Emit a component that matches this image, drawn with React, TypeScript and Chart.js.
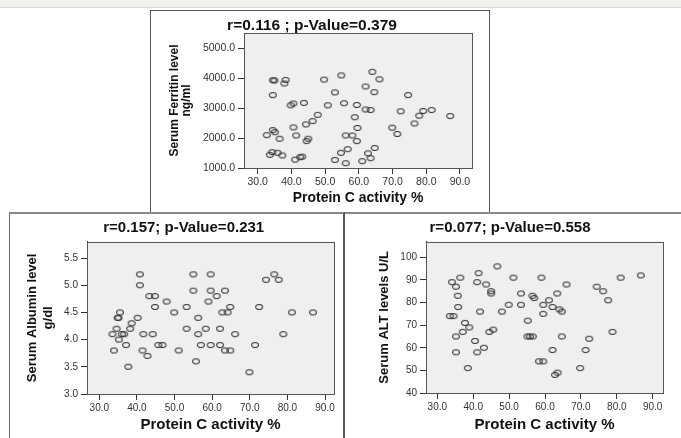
import React, { useEffect, useRef } from "react";
import { Chart, registerables } from "chart.js";

Chart.register(...registerables);

// ---------- data ----------
const xTitle = "Protein C activity %";
const xTickValues = [30, 40, 50, 60, 70, 80, 90];

const ferritinTitle = "r=0.116 ; p-Value=0.379";
const ferritinYTitle = ["Serum Ferritin level", "ng/ml"];
const ferritinYTicks = [1000, 2000, 3000, 4000, 5000];
const ferritinX = [
  34.5, 35.0, 38.3, 37.9, 34.5, 39.8, 40.6, 43.7, 40.6, 44.3,
  46.3, 47.8, 50.8, 49.7, 52.9, 54.8, 34.5, 35.1, 32.7, 36.5,
  41.4, 45.0, 44.5, 34.3, 33.6, 35.9, 37.3, 41.1, 42.6, 43.2,
  52.9, 64.0, 66.1, 62.0, 64.6, 55.6, 59.4, 62.0, 63.5, 58.8,
  74.6, 72.4, 79.1, 81.6, 77.9, 76.5, 87.1, 59.6, 69.9, 71.4,
  56.1, 58.1, 59.4, 56.7, 54.7, 56.1, 64.7, 62.7, 63.5, 61.0,
];
const ferritinY = [
  3940, 3930, 3950, 3830, 3440, 3100, 3160, 3180, 2360, 2460,
  2570, 2780, 3100, 3960, 3530, 4100, 2270, 2200, 2100, 1980,
  2090, 1980, 1900, 1530, 1440, 1510, 1420, 1280, 1360, 1380,
  1270, 4220, 3970, 3730, 3540, 3170, 3110, 2960, 2940, 2700,
  3440, 2900, 2910, 2940, 2750, 2490, 2740, 2340, 2350, 2140,
  2090, 2090, 1900, 1630, 1510, 1160, 1670, 1490, 1330, 1230,
];

const albuminTitle = "r=0.157; p-Value=0.231";
const albuminYTitle = ["Serum Albumin level", "g/dl"];
const albuminYTicks = [3.0, 3.5, 4.0, 4.5, 5.0, 5.5];
const albuminX = [
  40.8, 40.8, 43.3, 44.8, 44.8, 47.9, 49.9, 53.2, 35.5, 34.9,
  35.1, 38.6, 40.2, 34.6, 38.2, 33.5, 36.0, 36.6, 35.2, 41.7,
  44.2, 33.9, 37.1, 41.5, 42.8, 45.7, 46.8, 51.1, 37.7, 53.2,
  55.0, 59.6, 55.0, 59.6, 61.2, 63.4, 59.0, 64.8, 62.7, 64.1,
  56.3, 58.3, 62.1, 56.3, 66.1, 57.0, 59.6, 62.1, 63.4, 64.8,
  55.7, 69.9, 71.4, 72.5, 74.3, 76.5, 77.7, 81.2, 86.8, 78.9,
];
const albuminY = [
  5.2, 5.0, 4.8, 4.8, 4.6, 4.7, 4.5, 4.6, 4.5, 4.4,
  4.4, 4.3, 4.4, 4.2, 4.2, 4.1, 4.1, 4.1, 4.0, 4.1,
  4.1, 3.8, 3.9, 3.8, 3.7, 3.9, 3.9, 3.8, 3.5, 4.2,
  5.2, 5.2, 4.9, 4.9, 4.8, 4.9, 4.7, 4.6, 4.5, 4.5,
  4.4, 4.2, 4.2, 4.1, 4.1, 3.9, 3.9, 3.9, 3.8, 3.8,
  3.6, 3.4, 3.9, 4.6, 5.1, 5.2, 5.1, 4.5, 4.5, 4.1,
];

const altTitle = "r=0.077; p-Value=0.558";
const altYTitle = "Serum ALT levels U/L";
const altYTicks = [40, 50, 60, 70, 80, 90, 100];
const altX = [
  34.1, 35.2, 36.4, 35.7, 35.8, 33.5, 34.5, 37.7, 38.9, 37.1,
  35.2, 35.2, 38.5, 41.5, 41.1, 43.6, 45.0, 45.0, 46.7, 51.2,
  41.9, 48.0, 49.9, 53.3, 53.3, 44.5, 45.6, 40.5, 41.1, 43.0,
  55.2, 55.1, 55.8, 56.6, 56.5, 57.0, 59.0, 66.0, 63.4, 61.1,
  59.5, 62.1, 64.0, 64.7, 59.5, 64.7, 62.1, 58.3, 59.5, 62.8,
  63.5, 74.4, 76.2, 77.6, 81.1, 86.7, 78.8, 72.3, 71.3, 69.8,
];
const altY = [
  89, 87, 91, 83, 78, 74, 74, 71, 69, 67,
  65, 58, 51, 93, 89, 88, 85, 84, 96, 91,
  76, 76, 79, 79, 84, 67, 68, 63, 58, 60,
  72, 65, 65, 65, 83, 82, 91, 88, 84, 81,
  79, 78, 77, 76, 75, 65, 59, 54, 54, 48,
  49, 87, 85, 81, 91, 92, 67, 64, 59, 51,
];

// ---------- styling / layout ----------
const FONT = "'Liberation Sans', Arial, Helvetica, sans-serif";

type PanelCfg = {
  left: number; top: number; width: number; height: number;
  xMin: number; xMax: number; yMin: number; yMax: number;
  padRight: number; padTop: number; yAxisW: number; xAxisH: number;
  tickSize: number; xTitleSize: number; xTitlePadB: number;
  yTitleSize: number; yTitleLH: number; yTitlePadT: number;
  titleSize: number; titleX: number; titleY: number;
  yDecimals: number;
};

const ferritinCfg: PanelCfg = {
  left: 150, top: 10, width: 340, height: 203,
  xMin: 25.94, xMax: 93.56, yMin: 1000, yMax: 5520,
  padRight: 18, padTop: 23, yAxisW: 94, xAxisH: 45,
  tickSize: 10.5, xTitleSize: 14, xTitlePadB: 6.6,
  yTitleSize: 12, yTitleLH: 1.0, yTitlePadT: 19,
  titleSize: 15.5, titleX: 162, titleY: 16,
  yDecimals: 1,
};
const albuminCfg: PanelCfg = {
  left: 10, top: 213, width: 333, height: 225,
  xMin: 26.73, xMax: 92.39, yMin: 3.0, yMax: 5.8,
  padRight: 9, padTop: 28.7, yAxisW: 77, xAxisH: 44,
  tickSize: 10, xTitleSize: 15, xTitlePadB: 4,
  yTitleSize: 13, yTitleLH: 1.25, yTitlePadT: 13.9,
  titleSize: 15, titleX: 173.7, titleY: 15,
  yDecimals: 1,
};
const altCfg: PanelCfg = {
  left: 345, top: 213, width: 336, height: 225,
  xMin: 26.85, xMax: 92.87, yMin: 40, yMax: 106.9,
  padRight: 18, padTop: 28.7, yAxisW: 81, xAxisH: 45,
  tickSize: 10, xTitleSize: 15, xTitlePadB: 4,
  yTitleSize: 13, yTitleLH: 1.25, yTitlePadT: 30.9,
  titleSize: 15, titleX: 165, titleY: 14.7,
  yDecimals: 0,
};

const plotBgPlugin = {
  id: "plotBg",
  beforeDraw(chart: any) {
    const { ctx, chartArea: a } = chart;
    ctx.save();
    ctx.fillStyle = "#efefef";
    ctx.fillRect(a.left, a.top, a.right - a.left, a.bottom - a.top);
    ctx.restore();
  },
  afterDraw(chart: any) {
    const { ctx, chartArea: a } = chart;
    ctx.save();
    ctx.strokeStyle = "#555";
    ctx.lineWidth = 1;
    ctx.strokeRect(Math.round(a.left) + 0.5, Math.round(a.top) + 0.5, Math.round(a.right - a.left), Math.round(a.bottom - a.top));
    ctx.restore();
  },
};

const panelTitlePlugin = {
  id: "panelTitle",
  afterDraw(chart: any, _args: any, opts: any) {
    if (!opts || !opts.text) return;
    const { ctx } = chart;
    ctx.save();
    ctx.font = `bold ${opts.size}px ${FONT}`;
    ctx.fillStyle = "#111";
    ctx.textAlign = "center";
    ctx.textBaseline = "middle";
    ctx.fillText(opts.text, opts.x, opts.y);
    ctx.restore();
  },
};

function makeEllipse(): HTMLCanvasElement {
  const c = document.createElement("canvas");
  c.width = 10;
  c.height = 8;
  const g = c.getContext("2d")!;
  g.strokeStyle = "#333";
  g.lineWidth = 1.1;
  g.beginPath();
  g.ellipse(5, 4, 3.4, 2.5, 0, 0, Math.PI * 2);
  g.stroke();
  return c;
}

function Scatter(props: {
  cfg: PanelCfg; xs: number[]; ys: number[]; title: string;
  yTitle: string | string[]; yTicks: number[];
}) {
  const ref = useRef<HTMLCanvasElement | null>(null);
  const { cfg, xs, ys, title, yTitle, yTicks } = props;
  useEffect(() => {
    if (!ref.current) return;
    const pt = makeEllipse();
    const chart = new Chart(ref.current, {
      type: "scatter",
      data: {
        datasets: [
          {
            data: xs.map((x, i) => ({ x, y: ys[i] })),
            pointStyle: pt as any,
            pointRadius: 4,
            showLine: false,
          },
        ],
      },
      options: {
        animation: false,
        responsive: false,
        events: [],
        layout: { padding: { left: 0, right: cfg.padRight, top: cfg.padTop, bottom: 0 } },
        plugins: {
          legend: { display: false },
          tooltip: { enabled: false },
          title: { display: false },
          panelTitle: { text: title, size: cfg.titleSize, x: cfg.titleX, y: cfg.titleY },
        } as any,
        scales: {
          x: {
            type: "linear",
            min: cfg.xMin,
            max: cfg.xMax,
            afterBuildTicks: (s: any) => {
              s.ticks = xTickValues.map((v) => ({ value: v }));
            },
            afterFit: (s: any) => {
              s.height = cfg.xAxisH;
            },
            ticks: {
              callback: (v: any) => Number(v).toFixed(1),
              font: { family: FONT, size: cfg.tickSize },
              color: "#333",
              padding: 2,
              maxRotation: 0,
              autoSkip: false,
            },
            grid: { drawOnChartArea: false, drawTicks: true, tickLength: 6, color: "#333" },
            border: { display: true, color: "#333", width: 1 },
            title: {
              display: true,
              text: xTitle,
              color: "#111",
              font: { family: FONT, size: cfg.xTitleSize, weight: "bold" },
              padding: { top: 0, bottom: cfg.xTitlePadB },
            },
          },
          y: {
            type: "linear",
            min: cfg.yMin,
            max: cfg.yMax,
            afterBuildTicks: (s: any) => {
              s.ticks = yTicks.map((v) => ({ value: v }));
            },
            afterFit: (s: any) => {
              s.width = cfg.yAxisW;
            },
            ticks: {
              callback: (v: any) => Number(v).toFixed(cfg.yDecimals),
              font: { family: FONT, size: cfg.tickSize },
              color: "#333",
              padding: 3,
              autoSkip: false,
            },
            grid: { drawOnChartArea: false, drawTicks: true, tickLength: 6, color: "#333" },
            border: { display: true, color: "#333", width: 1 },
            title: {
              display: true,
              text: yTitle,
              color: "#111",
              font: { family: FONT, size: cfg.yTitleSize, weight: "bold", lineHeight: cfg.yTitleLH },
              padding: { top: cfg.yTitlePadT, bottom: 0 },
            },
          },
        },
      } as any,
      plugins: [plotBgPlugin, panelTitlePlugin],
    });
    return () => chart.destroy();
  }, []);
  return (
    <canvas
      ref={ref}
      width={cfg.width}
      height={cfg.height}
      style={{ position: "absolute", left: cfg.left, top: cfg.top, width: cfg.width, height: cfg.height }}
    />
  );
}

export default function App() {
  return (
    <div
      style={{
        position: "fixed",
        left: 0,
        top: 0,
        width: 681,
        height: 438,
        background: "#fff",
        overflow: "hidden",
      }}
    >
      <div style={{ position: "absolute", left: 0, top: 0, width: 681, height: 7, background: "#f1f1ed", borderBottom: "1px solid #dcdcd6" }} />
      <div style={{ position: "absolute", left: 150, top: 10, width: 340, height: 206, boxSizing: "border-box", border: "1px solid #555" }} />
      <div style={{ position: "absolute", left: 9, top: 212, width: 336, height: 240, boxSizing: "border-box", borderLeft: "1px solid #666", borderTop: "2px solid #888", borderRight: "2px solid #555", background: "#fff" }} />
      <div style={{ position: "absolute", left: 345, top: 212, width: 340, height: 240, boxSizing: "border-box", borderTop: "2px solid #888", background: "#fff" }} />
      <Scatter cfg={ferritinCfg} xs={ferritinX} ys={ferritinY} title={ferritinTitle} yTitle={ferritinYTitle} yTicks={ferritinYTicks} />
      <Scatter cfg={albuminCfg} xs={albuminX} ys={albuminY} title={albuminTitle} yTitle={albuminYTitle} yTicks={albuminYTicks} />
      <Scatter cfg={altCfg} xs={altX} ys={altY} title={altTitle} yTitle={altYTitle} yTicks={altYTicks} />
    </div>
  );
}
